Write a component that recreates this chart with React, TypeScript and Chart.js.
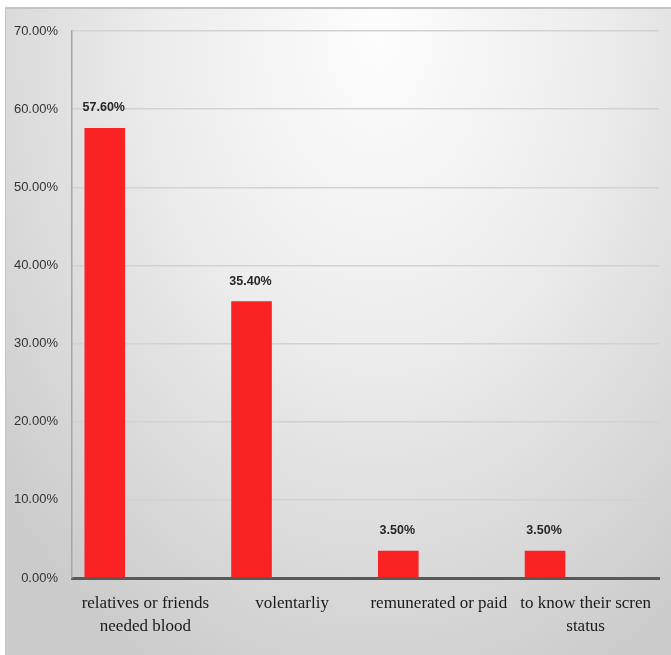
import React, { useEffect, useRef } from "react";
import { Chart, registerables } from "chart.js";

Chart.register(...registerables);

const categories: (string | string[])[] = [
  ["relatives or friends", "needed blood"],
  "volentarliy",
  "remunerated or paid",
  ["to know their scren", "status"],
];
const shares = [57.6, 35.4, 3.5, 3.5];
const yTicks = [0, 10, 20, 30, 40, 50, 60, 70];

const valueLabels = {
  id: "valueLabels",
  afterDatasetsDraw(chart: any) {
    const ctx = chart.ctx;
    const meta = chart.getDatasetMeta(0);
    ctx.save();
    ctx.font = "bold 12.5px 'Liberation Sans', Arial, sans-serif";
    ctx.fillStyle = "#262626";
    ctx.textAlign = "center";
    ctx.textBaseline = "middle";
    meta.data.forEach((bar: any, i: number) => {
      ctx.fillText(shares[i].toFixed(2) + "%", bar.x - 1, bar.y - 20);
    });
    ctx.restore();
  },
};

export default function App() {
  const ref = useRef<HTMLCanvasElement | null>(null);
  useEffect(() => {
    if (!ref.current) return;
    const chart = new Chart(ref.current, {
      type: "bar",
      data: {
        labels: categories as any,
        datasets: [
          { data: shares, backgroundColor: "#fa2222", borderWidth: 0 },
          { data: [], backgroundColor: "transparent" },
          { data: [], backgroundColor: "transparent" },
        ],
      },
      options: {
        animation: false,
        responsive: false,
        maintainAspectRatio: false,
        layout: { padding: { top: 31, right: 12, bottom: 0, left: 0 } },
        plugins: { legend: { display: false }, tooltip: { enabled: false } },
        datasets: { bar: { categoryPercentage: 0.83, barPercentage: 1 } },
        scales: {
          x: {
            grid: { display: false, drawTicks: false },
            border: { display: true, color: "#595959", width: 3 },
            ticks: {
              padding: 14,
              maxRotation: 0,
              autoSkip: false,
              color: "#1a1a1a",
              font: { family: "'Liberation Serif', 'DejaVu Serif', serif", size: 17, lineHeight: 1.35 },
            },
            afterFit: (s: any) => {
              s.height = 77;
            },
          },
          y: {
            min: 0,
            max: 70,
            afterBuildTicks: (s: any) => {
              s.ticks = yTicks.map((v) => ({ value: v }));
            },
            grid: { color: "#d2d2d2", lineWidth: 1.5, drawTicks: false },
            border: { display: true, color: "#a6a6a6", width: 1.5 },
            ticks: {
              padding: 14,
              color: "#333333",
              font: { family: "'Liberation Sans', Arial, sans-serif", size: 13 },
              callback: (v: any) => Number(v).toFixed(2) + "%",
            },
            afterFit: (s: any) => {
              s.width = 72;
            },
          },
        },
      },
      plugins: [valueLabels],
    });
    return () => chart.destroy();
  }, []);

  return (
    <div style={{ position: "fixed", left: 0, top: 0, width: 671, height: 655, background: "#ffffff" }}>
      <div
        style={{
          position: "absolute",
          left: 5,
          top: 7,
          width: 666,
          height: 648,
          boxSizing: "border-box",
          borderTop: "2px solid #c4c4c4",
          borderLeft: "1px solid #c4c4c4",
          background:
            "radial-gradient(ellipse 75% 110% at 56% 4%, #fdfdfd 0%, #ececec 45%, #dadada 75%, #cbcbcb 100%)",
          backgroundColor: "#cbcbcb",
        }}
      />
      <canvas ref={ref} width={671} height={655} style={{ position: "absolute", left: 0, top: 0, width: 671, height: 655 }} />
    </div>
  );
}
